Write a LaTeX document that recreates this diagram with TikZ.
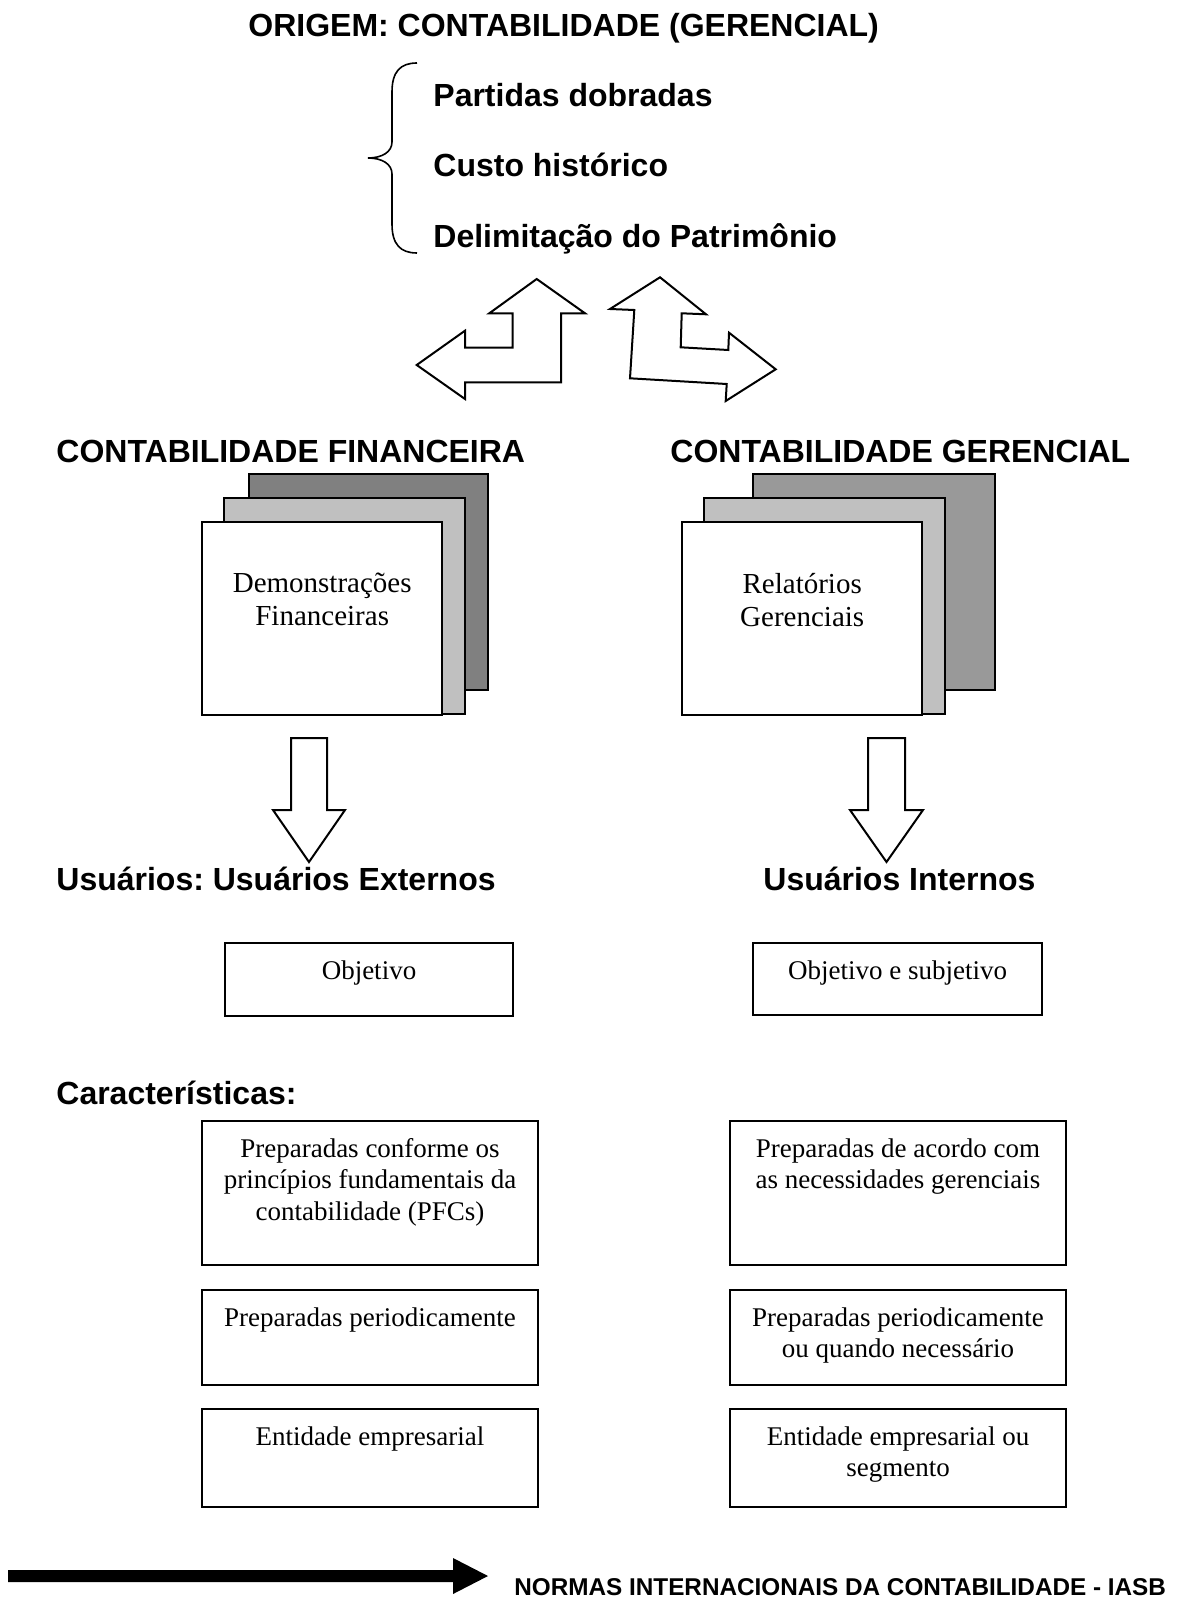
\documentclass[tikz,border=0pt]{standalone}
\usepackage{fontspec}
\setmainfont{Liberation Serif}
\setsansfont{Liberation Sans}
\usetikzlibrary{positioning}
\frenchspacing

\definecolor{sheetdark}{HTML}{808080}
\definecolor{sheetmid}{HTML}{C0C0C0}
\definecolor{sheetlight}{HTML}{999999}

\tikzset{
  heading/.style={font=\sffamily\bfseries\fontsize{16}{19}\selectfont, inner sep=0pt, anchor=base west},
  infobox/.style={draw, line width=1pt, anchor=north west, inner sep=0pt},
  boxtext/.style={font=\fontsize{13.5}{15.75}\selectfont, align=center, inner sep=0pt},
  sheettext/.style={font=\fontsize{14.5}{16.5}\selectfont, align=center, inner sep=0pt},
  sheet/.style={draw, line width=1.2pt},
  blockarrow/.style={draw, line width=1pt, fill=white, line join=miter},
}

\begin{document}
\begin{tikzpicture}[x=0.5pt, y=-0.5pt]
  \useasboundingbox (0,0) rectangle (1183,1599);

  % origem
  \node[heading] (origem) at (248,37) {ORIGEM: CONTABILIDADE (GERENCIAL)};
  \node[heading] (partidas) at (433,107) {Partidas dobradas};
  \node[heading] (custo) at (433,177) {Custo histórico};
  \node[heading] (delim) at (433,248) {Delimitação do Patrimônio};
  \draw[line width=0.8pt] (417,63) .. controls (400,63) and (392,72) .. (392,92) -- (392,142)
    .. controls (392,152) and (382,158) .. (368,158) .. controls (382,158) and (392,164) .. (392,174)
    -- (392,224) .. controls (392,244) and (400,253) .. (417,253);

  % two-way arrows
  \draw[blockarrow] (536.7,279) -- (585,313.3) -- (561,313.3) -- (561,382.3) -- (465,382.3)
    -- (465,399) -- (416.7,365) -- (465,330.7) -- (465,347.7) -- (512.7,347.7)
    -- (512.7,313.3) -- (489.3,313.3) -- cycle;
  \draw[blockarrow] (610,309) -- (660,277.3) -- (706,314.3) -- (681.7,313.3) -- (680.7,347.3)
    -- (728.3,350) -- (729,332.7) -- (775.7,369.3) -- (725.7,401) -- (726.7,384)
    -- (630,378.3) -- (634.3,310) -- cycle;

  \node[heading] (contfin) at (56,462) {CONTABILIDADE FINANCEIRA};
  \node[heading] (contger) at (670,462) {CONTABILIDADE GERENCIAL};

  % sheets
  \draw[sheet, fill=sheetdark] (249,474) rectangle (488,690);
  \draw[sheet, fill=sheetmid] (224,498) rectangle (465,714);
  \node[sheet, fill=white, anchor=north west, minimum width=120pt, minimum height=96.5pt] (demfin) at (201,521) {};
  \node[sheettext, below=26pt of demfin.north] (demfintxt) {Demonstrações\\Financeiras};

  \draw[sheet, fill=sheetlight] (753,474) rectangle (995,690);
  \draw[sheet, fill=sheetmid] (704,498) rectangle (945,714);
  \node[sheet, fill=white, anchor=north west, minimum width=120pt, minimum height=96.5pt] (relger) at (681,521) {};
  \node[sheettext, below=26pt of relger.north] (relgertxt) {Relatórios\\Gerenciais};

  % down arrows
  \draw[blockarrow] (291,738) -- (327,738) -- (327,810) -- (345,810) -- (309,862) -- (273,810) -- (291,810) -- cycle;
  \draw[blockarrow] (868,738) -- (905,738) -- (905,810) -- (923,810) -- (886.5,862) -- (850,810) -- (868,810) -- cycle;

  \node[heading] (usext) at (56,890) {Usuários: Usuários Externos};
  \node[heading] (usint) at (763,890) {Usuários Internos};

  \node[infobox, minimum width=144pt, minimum height=36.5pt] (objfin) at (224,942) {};
  \node[boxtext, below=9pt of objfin.north] (objfintxt) {Objetivo};
  \node[infobox, minimum width=144.5pt, minimum height=36pt] (objger) at (752,942) {};
  \node[boxtext, below=9pt of objger.north] (objgertxt) {Objetivo e subjetivo};

  % caracteristicas
  \node[heading] (caract) at (56,1104) {Características:};

  \node[infobox, minimum width=168pt, minimum height=72pt] (finA) at (201,1120) {};
  \node[boxtext, below=9pt of finA.north] (finAtxt) {Preparadas conforme os\\princípios fundamentais da\\contabilidade (PFCs)};
  \node[infobox, minimum width=168pt, minimum height=47.5pt] (finB) at (201,1289) {};
  \node[boxtext, below=9pt of finB.north] (finBtxt) {Preparadas periodicamente};
  \node[infobox, minimum width=168pt, minimum height=49pt] (finC) at (201,1408) {};
  \node[boxtext, below=9pt of finC.north] (finCtxt) {Entidade empresarial};

  \node[infobox, minimum width=168pt, minimum height=72pt] (gerA) at (729,1120) {};
  \node[boxtext, below=9pt of gerA.north] (gerAtxt) {Preparadas de acordo com\\as necessidades gerenciais};
  \node[infobox, minimum width=168pt, minimum height=47.5pt] (gerB) at (729,1289) {};
  \node[boxtext, below=9pt of gerB.north] (gerBtxt) {Preparadas periodicamente\\ou quando necessário};
  \node[infobox, minimum width=168pt, minimum height=49pt] (gerC) at (729,1408) {};
  \node[boxtext, below=9pt of gerC.north] (gerCtxt) {Entidade empresarial ou\\segmento};

  % normas
  \fill (8,1570) -- (453,1570) -- (453,1558) -- (488,1576) -- (453,1594) -- (453,1582) -- (8,1582) -- cycle;
  \node[heading, font=\sffamily\bfseries\fontsize{12.15}{14}\selectfont] (iasb) at (514,1595) {NORMAS INTERNACIONAIS DA CONTABILIDADE - IASB};
\end{tikzpicture}
\end{document}
